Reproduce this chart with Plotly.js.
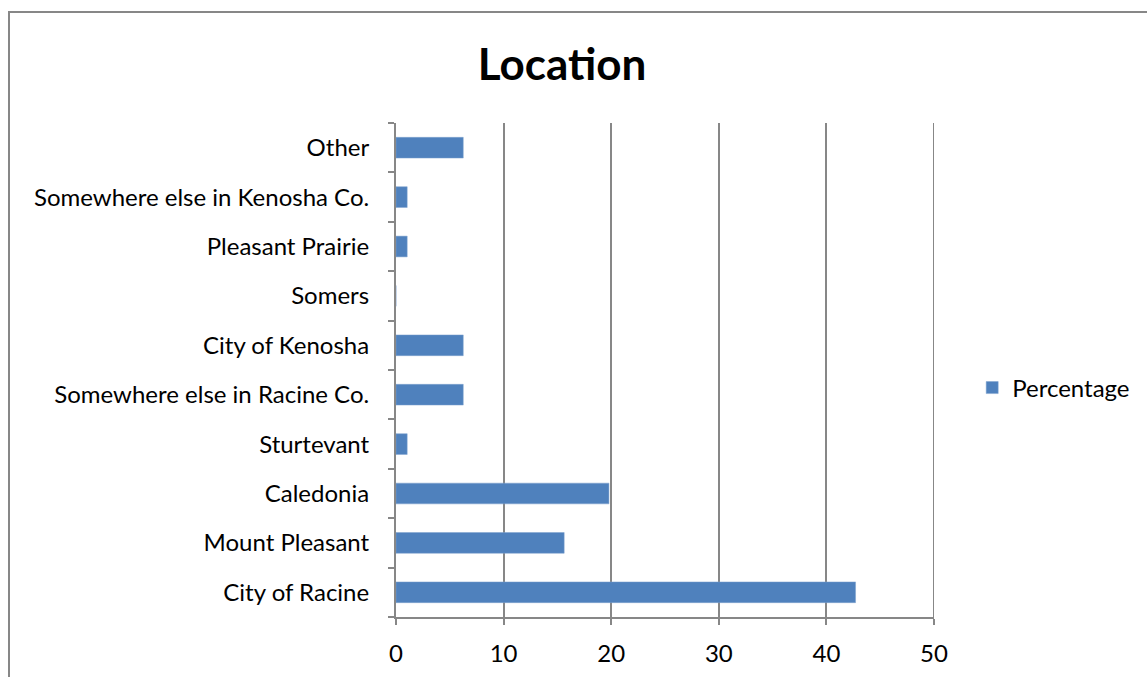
<!DOCTYPE html>
<html>
<head>
<meta charset="utf-8">
<script src="https://cdn.plot.ly/plotly-3.0.1.min.js"></script>
<style>
  body { margin: 0; background: #fff; }
  #frame { position: absolute; left: 8px; top: 11px; width: 1200px; height: 700px;
           border-left: 2px solid #878787; border-top: 2px solid #878787; }
  #chart { position: absolute; left: 0; top: 0; width: 1147px; height: 677px; }
</style>
</head>
<body>
<div id="frame"></div>
<div id="chart"></div>
<script>
  var locations = ['City of Racine', 'Mount Pleasant', 'Caledonia', 'Sturtevant',
    'Somewhere else in Racine Co.', 'City of Kenosha', 'Somers', 'Pleasant Prairie',
    'Somewhere else in Kenosha Co.', 'Other']
  var percentage = [42.71, 15.63, 19.79, 1.04, 6.25, 6.25, 0, 1.04, 1.04, 6.25]
  var xTicks = [0, 10, 20, 30, 40, 50]

  var trace1 = {
    type: 'bar',
    orientation: 'h',
    name: 'Percentage',
    x: percentage,
    y: locations,
    marker: { color: '#4f81bd', line: { color: '#7fa3cf', width: 0.5 } }
  }

  var layout = {
    width: 1147,
    height: 677,
    paper_bgcolor: 'rgba(0,0,0,0)',
    plot_bgcolor: 'rgba(0,0,0,0)',
    margin: { l: 396, r: 213, t: 123, b: 60, autoexpand: false },
    bargap: 0.58,
    font: { family: 'Lato, "Open Sans", sans-serif', color: '#000', size: 24 },
    title: {
      text: '<b>Location</b>',
      font: { size: 44, family: 'Lato, "Open Sans", sans-serif', color: '#000' },
      x: 0.49, xanchor: 'center', y: 0.905, yanchor: 'middle'
    },
    xaxis: {
      range: [0, 50],
      tickvals: xTicks,
      showgrid: true, gridcolor: '#878787', gridwidth: 2,
      showline: true, linecolor: '#878787', linewidth: 2,
      ticks: 'outside', ticklen: 6, tickcolor: '#878787', tickwidth: 2,
      ticklabelstandoff: 8,
      zeroline: false, fixedrange: true,
      tickfont: { size: 24 }
    },
    yaxis: {
      type: 'category',
      showgrid: false,
      showline: true, linecolor: '#878787', linewidth: 2,
      ticks: 'outside', ticklen: 6, tickcolor: '#878787', tickwidth: 2,
      tickson: 'boundaries',
      ticklabelstandoff: 20,
      fixedrange: true,
      tickfont: { size: 24 }
    },
    shapes: [{
      type: 'line', xref: 'x', yref: 'paper', x0: xTicks[5], x1: xTicks[5], y0: 0, y1: 1,
      layer: 'below', line: { color: '#878787', width: 2 }
    }],
    showlegend: true,
    legend: {
      x: 1.071, xanchor: 'left', y: 0.4636, yanchor: 'middle',
      font: { size: 24 }, bgcolor: 'rgba(0,0,0,0)'
    }
  }

  Plotly.newPlot('chart', [trace1], layout, { displayModeBar: false, staticPlot: true })
</script>
</body>
</html>
